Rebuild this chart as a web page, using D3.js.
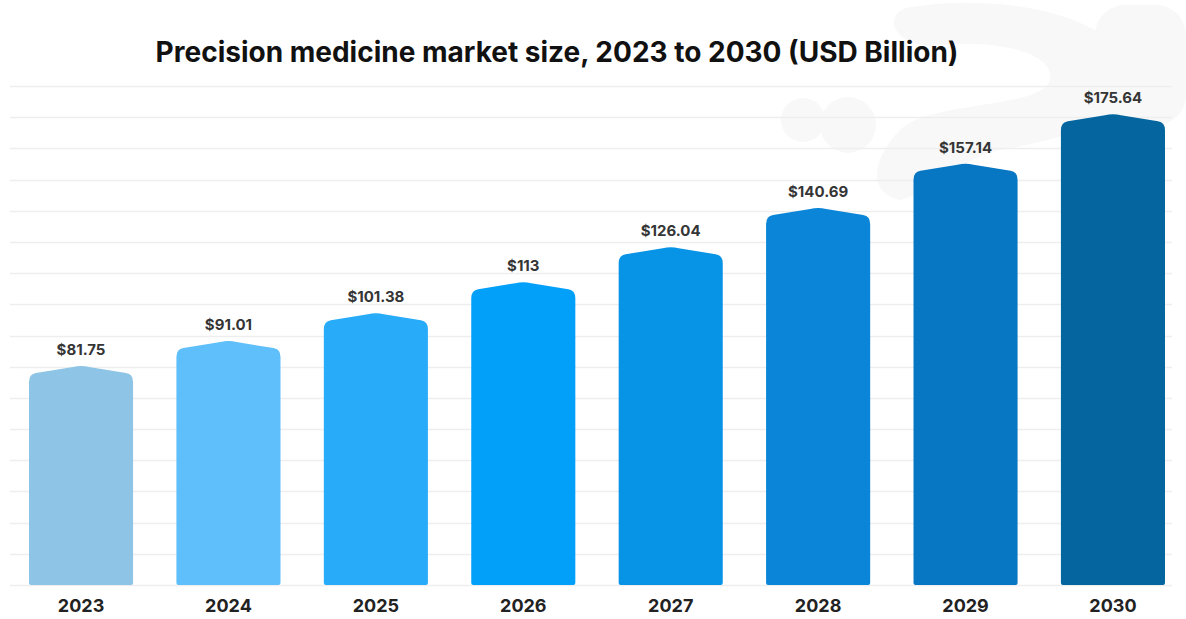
<!DOCTYPE html>
<html>
<head>
<meta charset="utf-8">
<script src="https://cdn.jsdelivr.net/npm/d3@7"></script>
<style>
  html, body { margin: 0; padding: 0; background: #ffffff; }
  svg { display: block; }
</style>
</head>
<body>
<svg id="chart" width="1186" height="619"></svg>
<script>
// Precision medicine market size, USD billion
const years = ["2023", "2024", "2025", "2026", "2027", "2028", "2029", "2030"];
const marketSize = [81.75, 91.01, 101.38, 113, 126.04, 140.69, 157.14, 175.64];
const barColors = ["#8ec4e5", "#5fbffa", "#28acfa", "#03a0fa", "#0894e6", "#0a85d8", "#0877c3", "#05659f"];
const gridRows = d3.range(17);
const title = "Precision medicine market size, 2023 to 2030 (USD Billion)";

const W = 1186, H = 619;
const baseY = 585;
const svg = d3.select("#chart");

// faint background emblem
const deco = svg.append("g").attr("fill", "#f8f8f9");
deco.append("path")
  .attr("d", "M905,8 C1010,-10 1120,20 1130,70 C1140,120 1060,140 1000,150 C960,158 940,190 900,200 C860,190 880,150 900,130 C930,100 1040,110 1050,80 C1055,50 990,40 940,45 C900,50 880,20 905,8 Z");
deco.append("circle").attr("cx", 803).attr("cy", 120).attr("r", 22);
deco.append("circle").attr("cx", 848).attr("cy", 125).attr("r", 28);
deco.append("rect").attr("x", 1095).attr("y", 5).attr("width", 91).attr("height", 120).attr("rx", 30);

// scales
const x = d3.scaleBand().domain(years).range([29, 1165]).paddingInner(0.294).paddingOuter(0);
const y = d3.scaleLinear().domain([0, 200]).range([baseY, baseY - 2.68 * 200]);
const grid = d3.scaleLinear().domain([0, 16]).range([baseY, 86]);

// horizontal rules
svg.append("g")
  .selectAll("line")
  .data(gridRows)
  .join("line")
  .attr("x1", 10).attr("x2", 1172)
  .attr("y1", d => Math.round(grid(d)) + 0.5)
  .attr("y2", d => Math.round(grid(d)) + 0.5)
  .attr("stroke", "#eeeeee")
  .attr("stroke-width", 1.5);

// bar with a gently peaked top
function barPath(x0, w, peak, base) {
  const x1 = x0 + w, cx = x0 + w / 2;
  const drop = 9, r = 7;
  const sh = peak + drop;
  const p = d3.path();
  p.moveTo(x0, base - 2);
  p.lineTo(x0, sh + r);
  p.quadraticCurveTo(x0, sh - 1, x0 + r, sh - 2);
  p.lineTo(cx - 8, peak + 1);
  p.quadraticCurveTo(cx, peak - 1, cx + 8, peak + 1);
  p.lineTo(x1 - r, sh - 2);
  p.quadraticCurveTo(x1, sh - 1, x1, sh + r);
  p.lineTo(x1, base - 2);
  p.quadraticCurveTo(x1, base, x1 - 2, base);
  p.lineTo(x0 + 2, base);
  p.quadraticCurveTo(x0, base, x0, base - 2);
  p.closePath();
  return p.toString();
}

const data = years.map((yr, i) => ({ yr, v: marketSize[i], c: barColors[i] }));

svg.append("g")
  .selectAll("path")
  .data(data)
  .join("path")
  .attr("d", d => barPath(x(d.yr), x.bandwidth(), y(d.v), baseY))
  .attr("fill", d => d.c);

// value labels
svg.append("g")
  .selectAll("text")
  .data(data)
  .join("text")
  .attr("x", d => x(d.yr) + x.bandwidth() / 2)
  .attr("y", d => y(d.v) - 11)
  .attr("text-anchor", "middle")
  .attr("font-family", "Inter, 'Open Sans', sans-serif")
  .attr("font-weight", 700)
  .attr("font-size", 15)
  .attr("fill", "#353535")
  .text(d => "$" + d.v);

// year axis
const xAxis = svg.append("g")
  .attr("transform", `translate(0,${baseY})`)
  .call(d3.axisBottom(x).tickSize(0).tickPadding(14));
xAxis.select(".domain").remove();
xAxis.selectAll("text")
  .attr("font-family", "Inter, 'Open Sans', sans-serif")
  .attr("font-weight", 700)
  .attr("font-size", 18)
  .attr("fill", "#222");

// title
svg.append("text")
  .attr("x", 557)
  .attr("y", 62)
  .attr("text-anchor", "middle")
  .attr("font-family", "Inter, 'Open Sans', sans-serif")
  .attr("font-weight", 700)
  .attr("font-size", 28)
  .attr("fill", "#111")
  .text(title);
</script>
</body>
</html>
